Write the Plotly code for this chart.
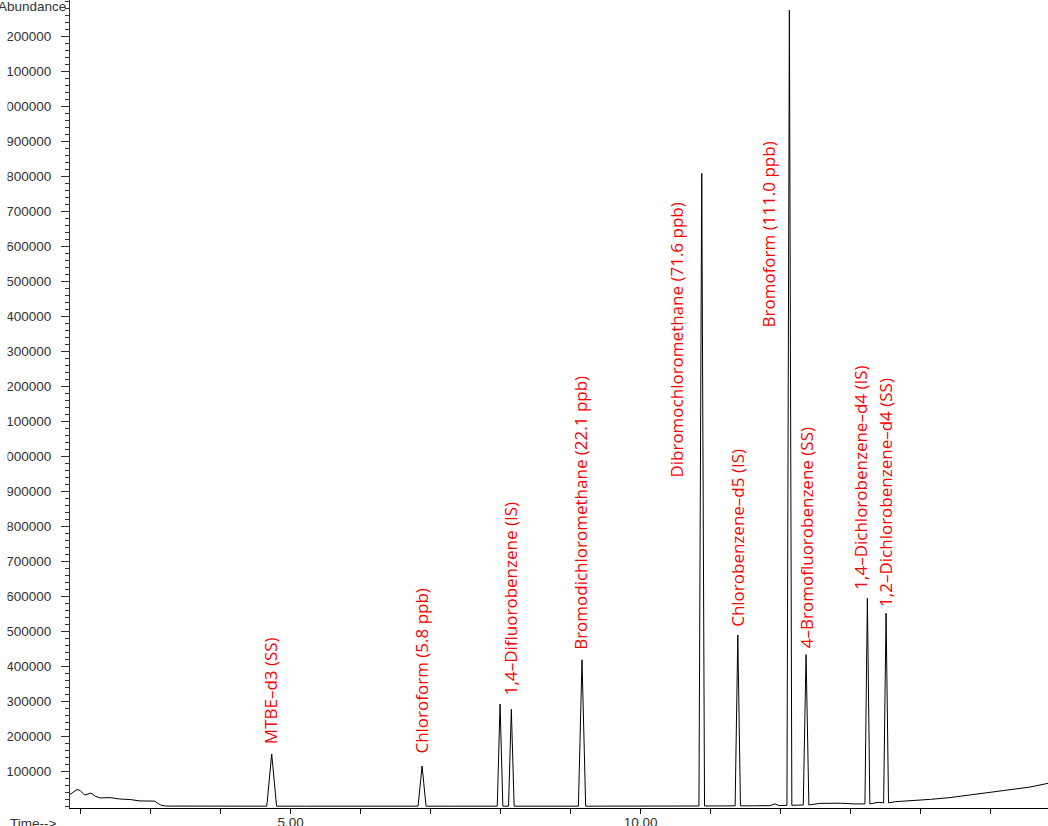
import plotly.graph_objects as go

# ---- data -------------------------------------------------------------
# Detector baseline (retention time in min, abundance)
baseline_time = [1.85, 1.95, 1.99, 2.06, 2.15, 2.21, 2.28, 2.42, 2.56, 2.71,
                 2.85, 2.99, 3.06, 3.14, 3.21, 3.28, 3.60, 4.00, 4.40, 5.20,
                 5.80, 6.30, 7.30, 7.70, 8.60, 9.50, 9.90, 10.40, 10.70, 11.10,
                 11.60, 11.85, 11.92, 11.98, 12.25, 12.56, 12.85, 13.05, 13.40,
                 13.64, 13.90, 14.14, 14.42, 14.71, 14.99, 15.28, 15.56, 15.82]
baseline_abund = [35000, 49000, 47000, 33000, 39000, 30000, 25000, 26000, 22000, 20500,
                  16500, 16300, 16000, 5000, 2000, 1800, 1500, 1500, 1300, 1500,
                  1200, 1500, 1500, 1400, 1500, 1600, 1500, 1800, 2000, 2200,
                  2500, 3000, 8000, 3000, 4500, 9500, 10000, 8000, 12500,
                  14300, 17000, 21000, 26000, 33400, 40000, 47700, 56000, 66800]

# Compound peaks
compounds = ["MTBE–d3 (SS)", "Chloroform (5.8 ppb)", "", "1,4–Difluorobenzene (IS)",
             "Bromodichloromethane (22.1 ppb)", "Dibromochloromethane (71.6 ppb)",
             "Chlorobenzene–d5 (IS)", "Bromoform (111.0 ppb)",
             "4–Bromofluorobenzene (SS)", "1,4–Dichlorobenzene–d4 (IS)",
             "1,2–Dichlorobenzene–d4 (SS)"]
peak_rt = [4.731, 6.879, 7.993, 8.154, 9.164, 10.874, 11.389, 12.126, 12.364, 13.240, 13.507]
peak_height = [150600, 116300, 293400, 278300, 419700, 1809600, 490500, 2276000,
               434600, 595400, 552500]
peak_halfwidth = [0.070, 0.057, 0.040, 0.040, 0.052, 0.040, 0.038, 0.035, 0.040, 0.035, 0.035]
peak_foot = [1500, 1500, 1500, 1500, 1500, 2000, 2500, 4000, 5000, 8000, 11000]

# Axis ticks
x_ticks = list(range(2, 16))
x_labels = ["5.00" if v == 5 else "10.00" if v == 10 else "" for v in x_ticks]
y_ticks = list(range(100000, 2300000, 100000))
y_labels = [str(v) for v in y_ticks]

# ---- build the chromatogram trace ----------------------------------------
points = list(zip(baseline_time, baseline_abund))
for rt, h, hw, foot in zip(peak_rt, peak_height, peak_halfwidth, peak_foot):
    points += [(rt - hw, foot), (rt, h), (rt + hw, foot)]
points.sort(key=lambda p: p[0])
tx = [p[0] for p in points]
ty = [p[1] for p in points]

fig = go.Figure()
fig.add_trace(go.Scatter(x=tx, y=ty, mode="lines",
                         line=dict(color="black", width=1), hoverinfo="skip",
                         showlegend=False))

# compound labels, offset in pixels from each apex (xshift, yshift)
label_offsets = [(-1, 9), (-1, 11), (0, 0), (-1, 13), (-1, 9), (-25, -305),
                 (-1, 7), (-21, -318), (0, 5), (-7, 8), (0, 5)]
for name, rt, h, (dx, dy) in zip(compounds, peak_rt, peak_height, label_offsets):
    if not name:
        continue
    fig.add_annotation(x=rt, y=h, xref="x", yref="y", text=name, textangle=-90,
                       showarrow=False, xanchor="center", yanchor="bottom",
                       xshift=dx, yshift=dy, borderpad=0,
                       font=dict(family="Open Sans", size=17, color="#ff0000"))

axis_font = dict(family="Liberation Sans", size=13.5, color="#333333")

fig.add_annotation(text="Abundance", xref="paper", yref="paper", x=0, y=1,
                   xanchor="right", yanchor="middle", xshift=-2, yshift=-6,
                   showarrow=False, font=axis_font)
fig.add_annotation(text="Time-->", xref="paper", yref="paper", x=-0.0634, y=0,
                   xanchor="left", yanchor="top", yshift=-6,
                   showarrow=False, font=axis_font)

# white strip along the left page edge
fig.add_shape(type="rect", xref="paper", yref="paper",
              x0=-0.08, x1=-0.0639, y0=-0.05, y1=1.05,
              fillcolor="white", line=dict(width=0), layer="above")

fig.update_layout(
    width=1048, height=826,
    margin=dict(l=70, r=0, t=0, b=18),
    paper_bgcolor="white", plot_bgcolor="white",
    xaxis=dict(range=[1.85, 15.82], showline=True, linecolor="black", linewidth=1,
               ticks="outside", ticklen=5, tickcolor="black",
               tickmode="array", tickvals=x_ticks, ticktext=x_labels,
               ticklabelstandoff=-3,
               showgrid=False, zeroline=False, tickfont=axis_font,
               automargin=False),
    yaxis=dict(range=[-3714, 2304857], showline=True, linecolor="#333333", linewidth=1,
               ticks="outside", ticklen=8, tickcolor="#333333",
               tickmode="array", tickvals=y_ticks, ticktext=y_labels,
               ticklabelstandoff=7,
               minor=dict(tickmode="linear", tick0=0, dtick=20000, ticklen=4,
                          ticks="outside", tickcolor="#333333"),
               showgrid=False, zeroline=False, tickfont=axis_font,
               automargin=False),
)

fig.write_html("out.html")
